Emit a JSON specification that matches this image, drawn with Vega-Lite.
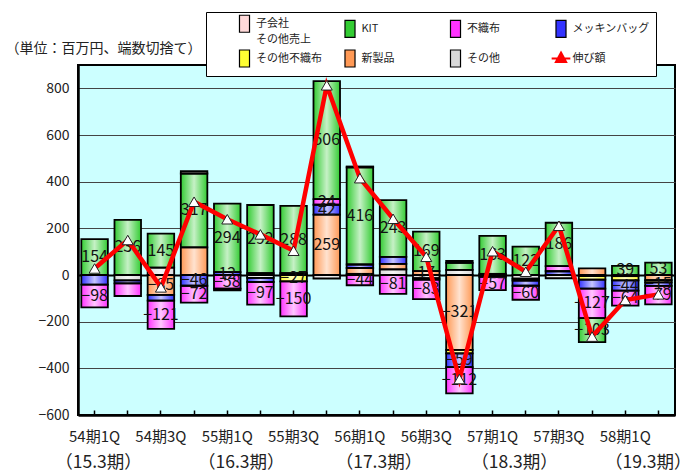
{
  "$schema": "https://vega.github.io/schema/vega-lite/v6.json",
  "width": 597,
  "height": 350,
  "autosize": {"type": "none"},
  "padding": {"left": 78, "top": 65, "right": 17, "bottom": 58},
  "background": "white",
  "config": {
    "font": "Noto Sans CJK JP",
    "view": {"fill": "#CCFFFF", "stroke": "black", "strokeWidth": 2}
  },
  "datasets": {
    "seg": [
      {"q": "54期1Q", "s": "KIT", "v": 154, "l": 1},
      {"q": "54期1Q", "s": "メッキンバッグ", "v": -41},
      {"q": "54期1Q", "s": "不織布", "v": -98, "l": 1},
      {"q": "54期2Q", "s": "KIT", "v": 236, "l": 1},
      {"q": "54期2Q", "s": "その他", "v": -23},
      {"q": "54期2Q", "s": "メッキンバッグ", "v": -13},
      {"q": "54期2Q", "s": "不織布", "v": -54},
      {"q": "54期3Q", "s": "その他", "v": 32},
      {"q": "54期3Q", "s": "KIT", "v": 145, "l": 1},
      {"q": "54期3Q", "s": "新製品", "v": -85, "l": 1},
      {"q": "54期3Q", "s": "メッキンバッグ", "v": -25},
      {"q": "54期3Q", "s": "不織布", "v": -121, "l": 1},
      {"q": "54期4Q", "s": "新製品", "v": 118},
      {"q": "54期4Q", "s": "KIT", "v": 317, "l": 1},
      {"q": "54期4Q", "s": "子会社その他売上", "v": 10},
      {"q": "54期4Q", "s": "メッキンバッグ", "v": -46, "l": 1},
      {"q": "54期4Q", "s": "不織布", "v": -72, "l": 1},
      {"q": "55期1Q", "s": "メッキンバッグ", "v": 12, "l": 1},
      {"q": "55期1Q", "s": "KIT", "v": 294, "l": 1},
      {"q": "55期1Q", "s": "不織布", "v": -58, "l": 1},
      {"q": "55期1Q", "s": "子会社その他売上", "v": -8},
      {"q": "55期2Q", "s": "新製品", "v": 8},
      {"q": "55期2Q", "s": "KIT", "v": 292, "l": 1},
      {"q": "55期2Q", "s": "その他", "v": -12},
      {"q": "55期2Q", "s": "メッキンバッグ", "v": -18},
      {"q": "55期2Q", "s": "不織布", "v": -97, "l": 1},
      {"q": "55期3Q", "s": "新製品", "v": 8},
      {"q": "55期3Q", "s": "KIT", "v": 288, "l": 1},
      {"q": "55期3Q", "s": "その他不織布", "v": -27, "l": 1},
      {"q": "55期3Q", "s": "不織布", "v": -150, "l": 1},
      {"q": "55期4Q", "s": "新製品", "v": 259, "l": 1},
      {"q": "55期4Q", "s": "メッキンバッグ", "v": 42, "l": 1},
      {"q": "55期4Q", "s": "不織布", "v": 24, "l": 1},
      {"q": "55期4Q", "s": "KIT", "v": 506, "l": 1},
      {"q": "55期4Q", "s": "その他", "v": -15},
      {"q": "56期1Q", "s": "その他", "v": 5},
      {"q": "56期1Q", "s": "新製品", "v": 25},
      {"q": "56期1Q", "s": "メッキンバッグ", "v": 15},
      {"q": "56期1Q", "s": "KIT", "v": 416, "l": 1},
      {"q": "56期1Q", "s": "子会社その他売上", "v": 4},
      {"q": "56期1Q", "s": "不織布", "v": -44, "l": 1},
      {"q": "56期2Q", "s": "その他", "v": 24},
      {"q": "56期2Q", "s": "新製品", "v": 24},
      {"q": "56期2Q", "s": "メッキンバッグ", "v": 30},
      {"q": "56期2Q", "s": "KIT", "v": 243, "l": 1},
      {"q": "56期2Q", "s": "不織布", "v": -81, "l": 1},
      {"q": "56期3Q", "s": "新製品", "v": 17, "l": 1},
      {"q": "56期3Q", "s": "KIT", "v": 169, "l": 1},
      {"q": "56期3Q", "s": "その他", "v": -14},
      {"q": "56期3Q", "s": "メッキンバッグ", "v": -6},
      {"q": "56期3Q", "s": "不織布", "v": -83, "l": 1},
      {"q": "56期4Q", "s": "その他", "v": 22},
      {"q": "56期4Q", "s": "KIT", "v": 30},
      {"q": "56期4Q", "s": "子会社その他売上", "v": 8},
      {"q": "56期4Q", "s": "新製品", "v": -321, "l": 1},
      {"q": "56期4Q", "s": "その他不織布", "v": -15},
      {"q": "56期4Q", "s": "メッキンバッグ", "v": -59, "l": 1},
      {"q": "56期4Q", "s": "不織布", "v": -112, "l": 1},
      {"q": "57期1Q", "s": "その他", "v": 5},
      {"q": "57期1Q", "s": "KIT", "v": 163, "l": 1},
      {"q": "57期1Q", "s": "メッキンバッグ", "v": -8},
      {"q": "57期1Q", "s": "不織布", "v": -57, "l": 1},
      {"q": "57期2Q", "s": "KIT", "v": 122, "l": 1},
      {"q": "57期2Q", "s": "その他", "v": -16},
      {"q": "57期2Q", "s": "その他不織布", "v": -8},
      {"q": "57期2Q", "s": "メッキンバッグ", "v": -22},
      {"q": "57期2Q", "s": "不織布", "v": -60, "l": 1},
      {"q": "57期3Q", "s": "メッキンバッグ", "v": 16},
      {"q": "57期3Q", "s": "不織布", "v": 22},
      {"q": "57期3Q", "s": "KIT", "v": 186, "l": 1},
      {"q": "57期3Q", "s": "その他", "v": -14},
      {"q": "57期4Q", "s": "新製品", "v": 28},
      {"q": "57期4Q", "s": "その他", "v": -5},
      {"q": "57期4Q", "s": "その他不織布", "v": -15},
      {"q": "57期4Q", "s": "メッキンバッグ", "v": -38},
      {"q": "57期4Q", "s": "不織布", "v": -127, "l": 1},
      {"q": "57期4Q", "s": "KIT", "v": -103, "l": 1},
      {"q": "58期1Q", "s": "KIT", "v": 39, "l": 1},
      {"q": "58期1Q", "s": "その他", "v": -5},
      {"q": "58期1Q", "s": "その他不織布", "v": -18},
      {"q": "58期1Q", "s": "メッキンバッグ", "v": -44, "l": 1},
      {"q": "58期1Q", "s": "不織布", "v": -64, "l": 1},
      {"q": "58期2Q", "s": "KIT", "v": 53, "l": 1},
      {"q": "58期2Q", "s": "新製品", "v": -22},
      {"q": "58期2Q", "s": "その他不織布", "v": -10},
      {"q": "58期2Q", "s": "メッキンバッグ", "v": -15, "l": 1},
      {"q": "58期2Q", "s": "不織布", "v": -79, "l": 1}
    ],
    "line": [
      {"q": "54期1Q", "v": 28},
      {"q": "54期2Q", "v": 150},
      {"q": "54期3Q", "v": -53},
      {"q": "54期4Q", "v": 314},
      {"q": "55期1Q", "v": 239},
      {"q": "55期2Q", "v": 174},
      {"q": "55期3Q", "v": 104},
      {"q": "55期4Q", "v": 813},
      {"q": "56期1Q", "v": 415},
      {"q": "56期2Q", "v": 241},
      {"q": "56期3Q", "v": 78},
      {"q": "56期4Q", "v": -446},
      {"q": "57期1Q", "v": 102},
      {"q": "57期2Q", "v": 14},
      {"q": "57期3Q", "v": 211},
      {"q": "57期4Q", "v": -264},
      {"q": "58期1Q", "v": -107},
      {"q": "58期2Q", "v": -83}
    ]
  },
  "layer": [
    {
      "data": {"name": "seg"},
      "transform": [
        {"calculate": "indexof(['その他','新製品','その他不織布','メッキンバッグ','不織布','KIT','子会社その他売上'], datum.s)", "as": "k"},
        {"stack": "v", "groupby": ["q"], "sort": [{"field": "k", "order": "ascending"}], "as": ["y0", "y1"]},
        {"calculate": "(datum.y0 + datum.y1) / 2", "as": "ym"}
      ],
      "layer": [
        {
          "mark": {"type": "bar", "strokeWidth": 0},
          "encoding": {
            "x": {
              "field": "q", "type": "nominal",
              "scale": {"domain": ["54期1Q","54期2Q","54期3Q","54期4Q","55期1Q","55期2Q","55期3Q","55期4Q","56期1Q","56期2Q","56期3Q","56期4Q","57期1Q","57期2Q","57期3Q","57期4Q","58期1Q","58期2Q"], "paddingInner": 0.2, "paddingOuter": 0.1},
              "axis": {
                "orient": "bottom", "title": null, "labelAngle": 0,
                "labelExpr": "slice(datum.value, -2) === '1Q' || slice(datum.value, -2) === '3Q' ? datum.value : ''",
                "labelFontSize": 15, "labelColor": "#222", "labelPadding": 19,
                "tickSize": -5, "tickColor": "black", "tickWidth": 1.5,
                "domainColor": "black", "domainWidth": 2.5, "grid": false
              }
            },
            "y": {
              "field": "y0", "type": "quantitative",
              "scale": {"domain": [-600, 900], "nice": false, "zero": false},
              "axis": {
                "values": [-600, -400, -200, 0, 200, 400, 600, 800],
                "title": "（単位：百万円、端数切捨て）",
                "titleAngle": 0, "titleAlign": "left", "titleBaseline": "middle",
                "titleX": -73, "titleY": -17, "titleFontSize": 14, "titleFontWeight": "normal", "titleColor": "#222",
                "labelFontSize": 14, "labelColor": "#222", "labelPadding": 9,
                "ticks": false, "domainColor": "black", "domainWidth": 2.5,
                "grid": true,
                "gridColor": {"condition": {"test": "datum.value === 0", "value": "black"}, "value": "#444"},
                "gridWidth": {"condition": {"test": "datum.value === 0", "value": 2}, "value": 1}
              }
            },
            "y2": {"field": "y1"},
            "color": {
              "field": "s", "type": "nominal",
              "scale": {
                "domain": ["子会社その他売上", "KIT", "不織布", "メッキンバッグ", "その他不織布", "新製品", "その他", "伸び額"],
                "range": ["#FFD9D9", "#33CC33", "#FF33FF", "#3333FF", "#FFFF33", "#FF9955", "#D9D9D9", "#FF0000"]
              },
              "legend": {
                "orient": "none", "legendX": 128, "legendY": -53,
                "title": " ", "titleOrient": "left", "titlePadding": 27,
                "columns": 4, "direction": "horizontal", "gridAlign": "all",
                "padding": 6, "columnPadding": 3.5, "rowPadding": 2,
                "strokeColor": "black", "fillColor": "white",
                "labelFontSize": 11, "labelColor": "#222", "labelLimit": 200, "labelOffset": 6,
                "symbolSize": 289,
                "symbolType": "M-0.59,-1L0.59,-1L0.59,1L-0.59,1Z",
                "labelExpr": "datum.label === '子会社その他売上' ? ['子会社', 'その他売上'] : datum.label",
                "encode": {
                  "symbols": {"update": {
                    "shape": {"signal": "datum.value === '伸び額' ? 'M-1.1,0L1.1,0M0,-0.7L0.6,0.4L-0.6,0.4Z' : 'M-0.59,-1L0.59,-1L0.59,1L-0.59,1Z'"},
                    "fill": {"signal": "datum.value === '伸び額' ? 'white' : scale('color', datum.value)"},
                    "stroke": {"signal": "datum.value === '伸び額' ? '#FF0000' : 'black'"},
                    "strokeWidth": {"signal": "datum.value === '伸び額' ? 2 : 1.2"},
                    "opacity": {"value": 1}
                  }},
                  "labels": {"update": {"lineHeight": {"value": 16}}}
                }
              }
            }
          }
        },
        {
          "mark": {"type": "bar", "strokeWidth": 0, "fill": {"gradient": "linear", "x1": 0, "y1": 0, "x2": 1, "y2": 0, "stops": [{"offset": 0, "color": "rgba(255,255,255,0)"}, {"offset": 0.5, "color": "rgba(255,255,255,0.72)"}, {"offset": 1, "color": "rgba(255,255,255,0)"}]}},
          "encoding": {
            "x": {"field": "q", "type": "nominal"},
            "y": {"field": "y0", "type": "quantitative"},
            "y2": {"field": "y1"}
          }
        },
        {
          "mark": {"type": "bar", "filled": false, "stroke": "black", "strokeWidth": 1.8},
          "encoding": {
            "x": {"field": "q", "type": "nominal"},
            "y": {"field": "y0", "type": "quantitative"},
            "y2": {"field": "y1"}
          }
        },
        {
          "transform": [{"filter": "datum.l === 1"}],
          "mark": {"type": "text", "fontSize": 16, "color": "#111", "baseline": "middle"},
          "encoding": {
            "x": {"field": "q", "type": "nominal"},
            "y": {"field": "ym", "type": "quantitative"},
            "text": {"field": "v", "type": "quantitative", "format": "d"}
          }
        }
      ]
    },
    {
      "data": {"name": "line"},
      "layer": [
        {
          "mark": {"type": "line", "color": "#FF0000", "strokeWidth": 4.5},
          "encoding": {
            "x": {
              "field": "q", "type": "nominal",
              "axis": {
                "orient": "bottom", "title": null, "labelAngle": 0,
                "domain": false, "ticks": false, "grid": false,
                "labelExpr": "datum.value === '54期1Q' ? '（15.3期）' : datum.value === '55期1Q' ? '（16.3期）' : datum.value === '56期1Q' ? '（17.3期）' : datum.value === '57期1Q' ? '（18.3期）' : datum.value === '58期1Q' ? '（19.3期）' : ''",
                "labelFontSize": 17.5, "labelColor": "#222", "labelPadding": 38,
                "labelOverlap": false, "labelBound": false,
                "labelOffset": {"condition": [
                  {"test": "datum.value === '54期1Q'", "value": 4},
                  {"test": "datum.value === '55期1Q'", "value": 14},
                  {"test": "datum.value === '56期1Q'", "value": 19},
                  {"test": "datum.value === '57期1Q'", "value": 22}
                ], "value": 23}
              }
            },
            "y": {"field": "v", "type": "quantitative"}
          }
        },
        {
          "mark": {"type": "point", "shape": "triangle-up", "size": 121, "filled": true, "fill": "white", "stroke": "#222", "strokeWidth": 1, "opacity": 1},
          "encoding": {
            "x": {"field": "q", "type": "nominal"},
            "y": {"field": "v", "type": "quantitative"}
          }
        }
      ]
    }
  ],
  "resolve": {"axis": {"x": "independent"}}
}
